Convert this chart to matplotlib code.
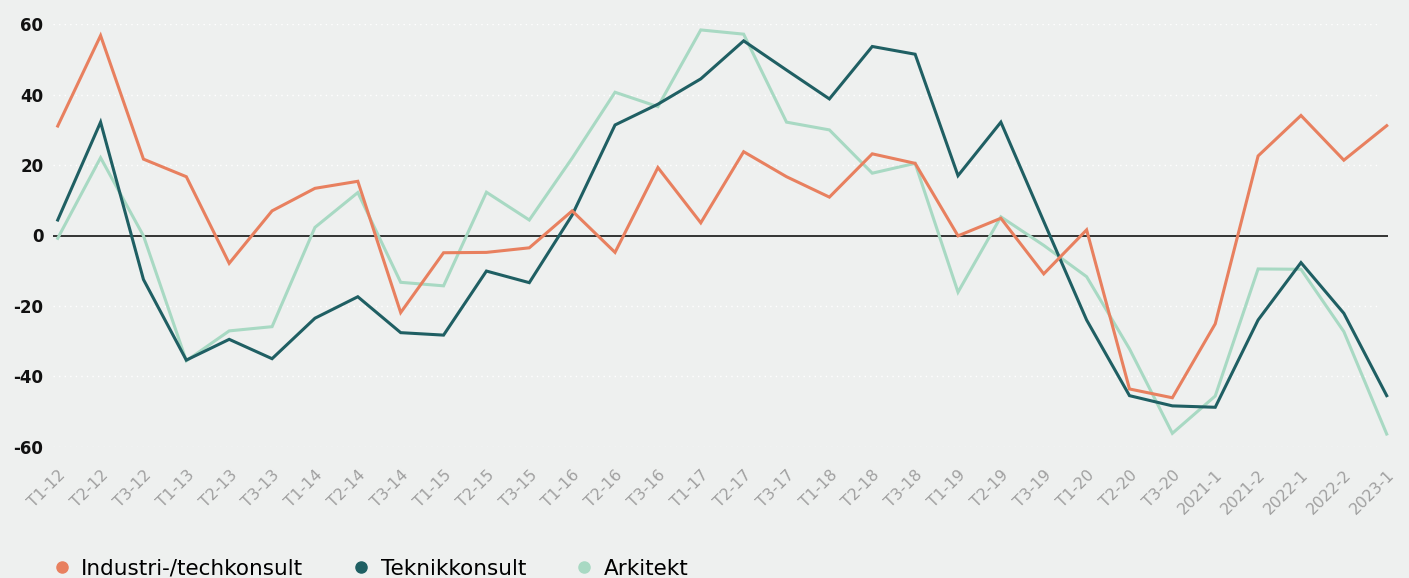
import matplotlib
matplotlib.use("Agg")
import matplotlib.pyplot as plt
from matplotlib.lines import Line2D

BG = "#EEF0EF"
ORANGE, TEAL, MINT = "#E8805F", "#1F5F63", "#A8D9C3"

periods = ["T1-12", "T2-12", "T3-12", "T1-13", "T2-13", "T3-13", "T1-14", "T2-14",
           "T3-14", "T1-15", "T2-15", "T3-15", "T1-16", "T2-16", "T3-16", "T1-17",
           "T2-17", "T3-17", "T1-18", "T2-18", "T3-18", "T1-19", "T2-19", "T3-19",
           "T1-20", "T2-20", "T3-20", "2021-1", "2021-2", "2022-1", "2022-2", "2023-1"]

industri = [31.1, 56.8, 21.7, 16.7, -7.9, 7.0, 13.4, 15.4, -21.9, -4.9, -4.8, -3.5,
            7.0, -4.8, 19.3, 3.6, 23.8, 16.7, 10.9, 23.2, 20.5, -0.1, 4.9, -10.9,
            1.6, -43.6, -46.1, -25.1, 22.6, 34.1, 21.4, 31.2]
teknik = [4.4, 32.2, -12.5, -35.4, -29.5, -35.0, -23.5, -17.4, -27.6, -28.3, -10.1, -13.4,
          5.8, 31.4, 37.3, 44.5, 55.3, 47.0, 38.8, 53.7, 51.5, 17.0, 32.2, 4.0,
          -24.0, -45.5, -48.4, -48.8, -24.0, -7.7, -22.1, -45.5]
arkitekt = [-0.8, 22.1, -0.1, -35.6, -27.1, -25.9, 2.3, 12.2, -13.3, -14.3, 12.3, 4.4,
            22.0, 40.7, 36.6, 58.4, 57.2, 32.2, 30.0, 17.7, 20.5, -16.1, 5.3, -2.8,
            -11.7, -32.2, -56.2, -45.6, -9.5, -9.6, -27.3, -56.4]

series = [("Industri-/techkonsult", industri, ORANGE),
          ("Teknikkonsult", teknik, TEAL),
          ("Arkitekt", arkitekt, MINT)]

W, H = 1409, 578
fig = plt.figure(figsize=(W / 100, H / 100), dpi=100, facecolor=BG)
ax = fig.add_axes([53 / W, 1 - 446.7 / H, (1388 - 53) / W, (446.7 - 24.3) / H])
ax.set_facecolor(BG)

x = list(range(len(periods)))
for name, vals, col in reversed(series):
    ax.plot(x, vals, color=col, lw=2.2, solid_joinstyle="miter", zorder=3, clip_on=False)

ax.axhline(0, color="black", lw=1.1, zorder=2)
# dotted white grid, stops a little short of the right edge
ax.hlines([-60, -40, -20, 20, 40, 60], -0.11, 30.84, color="white", lw=1.0,
          ls=(0, (1, 3)), zorder=1)

ax.set_xlim(-0.11, 31.03)
ax.set_ylim(-60, 60)
ax.set_yticks([-60, -40, -20, 0, 20, 40, 60])
ax.set_yticklabels(["-60", "-40", "-20", "0", "20", "40", "60"],
                   fontsize=12, fontweight="bold", color="#111111")
ax.set_xticks(x)
ax.set_xticklabels(periods, rotation=45, ha="right", va="top",
                   rotation_mode="anchor", fontsize=11.3, color="#A0A0A0")
ax.tick_params(axis="both", length=0)
ax.tick_params(axis="y", pad=7)
ax.tick_params(axis="x", pad=15)
for s in ax.spines.values():
    s.set_visible(False)

handles = [Line2D([], [], ls="none", marker="o", ms=8, color=c, label=n)
           for n, _, c in series]
fig.legend(handles=handles, loc="center left", bbox_to_anchor=(51 / W, 1 - 569 / H),
           ncol=3, frameon=False, fontsize=15.5, handletextpad=0.4,
           columnspacing=2.2, handlelength=1.0, borderaxespad=0, borderpad=0)

fig.savefig("out.png", dpi=100, facecolor=BG)
